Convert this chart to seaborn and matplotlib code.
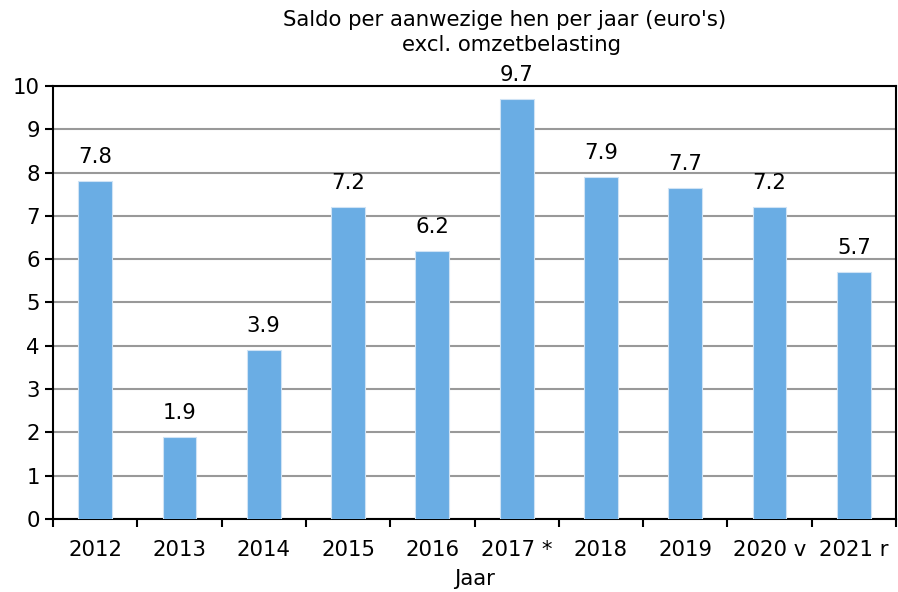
import numpy as np
import pandas as pd
import matplotlib
matplotlib.use('Agg')
import matplotlib.pyplot as plt
import seaborn as sns

years = ['2012', '2013', '2014', '2015', '2016', '2017 *', '2018', '2019', '2020 v', '2021 r']
saldo = [7.8, 1.9, 3.9, 7.2, 6.2, 9.7, 7.9, 7.65, 7.2, 5.7]
labels = ['7.8', '1.9', '3.9', '7.2', '6.2', '9.7', '7.9', '7.7', '7.2', '5.7']

df = pd.DataFrame({'Jaar': years, 'Saldo': saldo})

sns.set_style('white')
plt.rcParams['font.family'] = ['DejaVu Sans']
plt.rcParams['text.color'] = 'black'
plt.rcParams['axes.labelcolor'] = 'black'
plt.rcParams['xtick.color'] = 'black'
plt.rcParams['ytick.color'] = 'black'
plt.rcParams['xtick.bottom'] = True
plt.rcParams['ytick.left'] = True

fs = 15.3

fig = plt.figure(figsize=(8.98, 5.92), dpi=100)
ax = fig.add_axes([53 / 898, 73 / 592, 843 / 898, 433 / 592])

sns.barplot(data=df, x='Jaar', y='Saldo', color='#6AADE4', saturation=1, width=0.4,
            edgecolor='#CFE3F5', linewidth=0.8, ax=ax, zorder=3)

# value labels above the bars
for i, (v, lab) in enumerate(zip(saldo, labels)):
    ax.annotate(lab, (i, v), xytext=(0, 10), textcoords='offset points',
                ha='center', va='bottom', fontsize=fs, color='black')

ax.set_ylim(0, 10)
ax.set_xlim(-0.5, len(years) - 0.5)
ax.set_yticks(range(0, 11))
ax.yaxis.grid(True, color='#999999', linewidth=1.5, zorder=0)
ax.set_axisbelow(True)

# ticks between the categories
ax.set_xticks(np.arange(-0.5, len(years), 1), minor=True)
ax.tick_params(axis='x', which='major', bottom=False, length=0, labelsize=fs, pad=15)
ax.tick_params(axis='x', which='minor', bottom=True, length=6, width=1.5, direction='out')
ax.tick_params(axis='y', left=True, length=6, width=1.5, labelsize=fs, direction='out')

for s in ax.spines.values():
    s.set_color('black')
    s.set_linewidth(1.5)

ax.set_xlabel('Jaar', fontsize=fs, labelpad=6.5)
ax.set_ylabel('')

fig.text(505 / 898, 1 - 20 / 592, "Saldo per aanwezige hen per jaar (euro's)",
         ha='center', va='center', fontsize=fs)
fig.text(512 / 898, 1 - 45 / 592, 'excl. omzetbelasting',
         ha='center', va='center', fontsize=fs)

fig.savefig('out.png', dpi=100)
